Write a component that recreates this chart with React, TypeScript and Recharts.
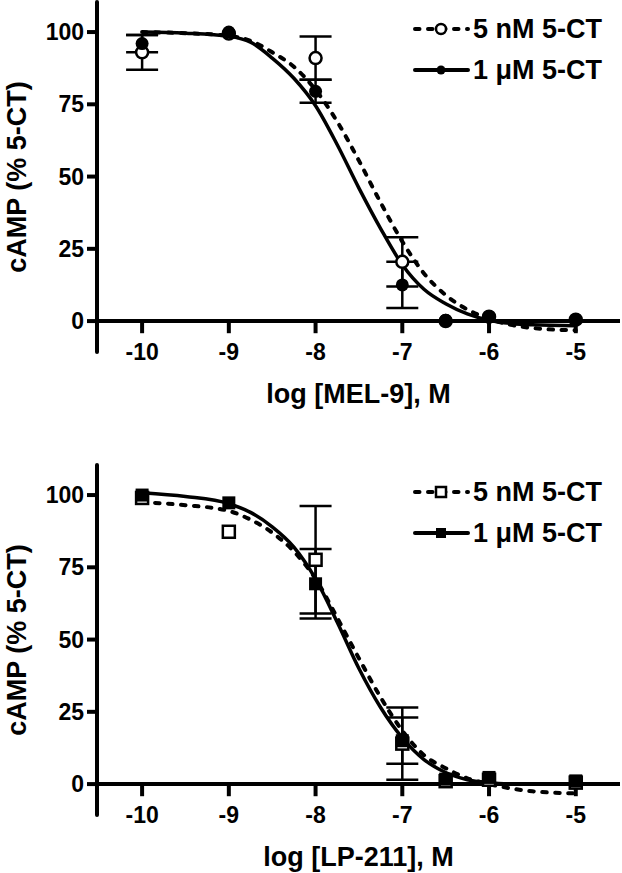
import React from "react"
import { ComposedChart, Line, Scatter, ErrorBar, XAxis, YAxis, ReferenceLine, Legend } from "recharts"

const FONT = '"Liberation Sans", Arial, Helvetica, sans-serif'

const xTicks = [-10, -9, -8, -7, -6, -5]
const yTicks = [0, 25, 50, 75, 100]

const fitLogs = [-10, -9.5, -9, -8.75, -8.5, -8.25, -8, -7.75, -7.5, -7.25, -7, -6.75, -6.5, -6.25, -6, -5.75, -5.5, -5]
// log concentrations of the measured points
const doseLogs = [-10, -9, -8, -7, -6.5, -6, -5]

// MEL-9 panel
const mel9Fit5nM = [100, 99.6, 98.7, 97, 93, 88, 80, 69, 55.5, 41, 27.5, 16.5, 9, 4, 0.8, -1.3, -2.4, -3.2]
const mel9Fit1uM = [100, 99.6, 98.5, 96.5, 91, 84, 74.5, 61, 46, 32, 19.5, 11, 6, 2.5, 0.3, -0.8, -1.3, -1.6]
const mel9Mean5nM = [93, 99.5, 91, 20.5, 0, 1.5, 0.5]
const mel9Sem5nM = [6, 0, 7.5, 8.5, 0, 0, 0]
const mel9Mean1uM = [96, 100, 79.5, 12.5, 0.3, 1.5, 0.5]
const mel9Sem1uM = [3, 0, 4, 8, 0, 0, 0]

// LP-211 panel
const lp211Fit5nM = [97.5, 96.5, 94.5, 91.5, 87, 80.5, 71, 57.5, 43.5, 30, 18.5, 10, 5.5, 2, 0, -1.5, -2.5, -3.2]
const lp211Fit1uM = [100.8, 99.5, 97, 94, 89, 82, 71, 56, 40, 26.5, 16, 8.5, 4, 1.5, 0.5, 0.1, 0, 0]
const lp211Mean5nM = [99, 87.3, 77.6, 14, 1, 1.5, 0.5]
const lp211Sem5nM = [0, 0, 18.6, 12.5, 0, 0, 0]
const lp211Mean1uM = [100, 97.3, 69.3, 15, 1.7, 2.3, 1.1]
const lp211Sem1uM = [0, 0, 12, 8, 0, 0, 0]

const legendLabels = ["5 nM 5-CT", "1 \u03bcM 5-CT"]

const rows = (xs: number[], ys: number[], errs?: number[]) =>
  xs.map((x, i) => ({ x, y: ys[i], err: errs && errs[i] ? errs[i] : undefined }))

const OpenCircle = (p: any) => <circle cx={p.cx} cy={p.cy} r={6} fill="#fff" stroke="#000" strokeWidth={2.5} />
const FilledCircle = (p: any) => <circle cx={p.cx} cy={p.cy} r={6.5} fill="#000" />
const OpenSquare = (p: any) => (
  <rect x={p.cx - 6} y={p.cy - 6} width={12} height={12} fill="#fff" stroke="#000" strokeWidth={2.5} />
)
const FilledSquare = (p: any) => <rect x={p.cx - 6.5} y={p.cy - 6.5} width={13} height={13} fill="#000" />

const DASH = "4.5 8.5"

function LegendBox({ square }: { square: boolean }) {
  return (
    <svg width={212} height={90} style={{ display: "block" }}>
      {legendLabels.map((label, i) => {
        const y = 29 + i * 41
        const open = i === 0
        return (
          <g key={label}>
            <line
              x1={5}
              x2={58}
              y1={y}
              y2={y}
              stroke="#000"
              strokeWidth={4}
              strokeLinecap="round"
              strokeDasharray={open ? DASH : undefined}
            />
            {square ? (
              <rect
                x={26}
                y={y - 5}
                width={10}
                height={10}
                fill={open ? "#fff" : "#000"}
                stroke="#000"
                strokeWidth={open ? 2.5 : 0}
              />
            ) : (
              <circle cx={31} cy={y} r={open ? 5 : 4.5} fill={open ? "#fff" : "#000"} stroke="#000" strokeWidth={open ? 2.5 : 0} />
            )}
            <text x={63} y={y + 8.5} fontSize={27} fontWeight="bold" fontFamily={FONT} fill="#000">
              {label}
            </text>
          </g>
        )
      })}
    </svg>
  )
}

const XTick = ({ x, y, payload }: any) => (
  <text x={x} y={y + 8} textAnchor="middle" fontSize={23} fontWeight="bold" fontFamily={FONT} fill="#000">
    {payload.value}
  </text>
)

type PanelProps = {
  top: number
  xTitle: string
  fitDashed: number[]
  fitSolid: number[]
  mean5nM: number[]
  sem5nM: number[]
  mean1uM: number[]
  sem1uM: number[]
  square: boolean
}

function DosePanel(props: PanelProps) {
  const { top, xTitle, fitDashed, fitSolid, mean5nM, sem5nM, mean1uM, sem1uM, square } = props
  return (
    <div style={{ position: "absolute", left: 0, top }}>
      <ComposedChart width={622} height={412} margin={{ top: 2, right: 2, left: 0, bottom: 0 }}>
        <XAxis
          type="number"
          dataKey="x"
          domain={[-10.52, -4.49]}
          allowDataOverflow
          ticks={xTicks}
          axisLine={false}
          tickLine={false}
          tickSize={0}
          tickMargin={0}
          height={60}
          tick={<XTick />}
          label={{
            value: xTitle,
            position: "insideBottom",
            offset: 9,
            fontSize: 27,
            fontWeight: "bold",
            fontFamily: FONT,
            fill: "#000",
          }}
        />
        <YAxis
          type="number"
          dataKey="y"
          domain={[-10.7, 110.4]}
          allowDataOverflow
          ticks={yTicks}
          width={97}
          axisLine={{ stroke: "#000", strokeWidth: 4, strokeLinecap: "round" }}
          tickLine={{ stroke: "#000", strokeWidth: 4 }}
          tickSize={10}
          tickMargin={3}
          tick={{ fill: "#000", fontSize: 23, fontWeight: "bold", fontFamily: FONT }}
          label={{
            value: "cAMP (% 5-CT)",
            angle: -90,
            position: "insideLeft",
            offset: 16,
            fontSize: 27,
            fontWeight: "bold",
            fontFamily: FONT,
            fill: "#000",
            style: { textAnchor: "middle" },
          }}
        />
        <ReferenceLine y={0} stroke="#000" strokeWidth={4} ifOverflow="visible" />
        {xTicks.map((t) => (
          <ReferenceLine
            key={t}
            segment={[
              { x: t, y: 0 },
              { x: t, y: -4.2 },
            ]}
            stroke="#000"
            strokeWidth={4}
            ifOverflow="visible"
          />
        ))}
        <Line
          data={rows(fitLogs, fitDashed)}
          dataKey="y"
          type="monotone"
          stroke="#000"
          strokeWidth={4}
          strokeDasharray={DASH}
          strokeLinecap="round"
          dot={false}
          activeDot={false}
          isAnimationActive={false}
        />
        <Line
          data={rows(fitLogs, fitSolid)}
          dataKey="y"
          type="monotone"
          stroke="#000"
          strokeWidth={3.5}
          dot={false}
          activeDot={false}
          isAnimationActive={false}
        />
        <Scatter
          data={rows(doseLogs, mean5nM, sem5nM)}
          dataKey="y"
          shape={square ? OpenSquare : OpenCircle}
          isAnimationActive={false}
        >
          <ErrorBar dataKey="err" direction="y" width={16} stroke="#000" strokeWidth={2.5} isAnimationActive={false} />
        </Scatter>
        <Scatter
          data={rows(doseLogs, mean1uM, sem1uM)}
          dataKey="y"
          shape={square ? FilledSquare : FilledCircle}
          isAnimationActive={false}
        >
          <ErrorBar dataKey="err" direction="y" width={16} stroke="#000" strokeWidth={2.5} isAnimationActive={false} />
        </Scatter>
        <Legend
          layout="horizontal"
          verticalAlign="middle"
          align="center"
          wrapperStyle={{ top: 0, left: 410, width: 212, height: 90 }}
          content={() => <LegendBox square={square} />}
        />
      </ComposedChart>
    </div>
  )
}

export default function App() {
  return (
    <div style={{ position: "absolute", left: 0, top: 0, width: 622, height: 873, background: "#fff", overflow: "hidden" }}>
      <DosePanel
        top={0}
        xTitle="log [MEL-9], M"
        fitDashed={mel9Fit5nM}
        fitSolid={mel9Fit1uM}
        mean5nM={mel9Mean5nM}
        sem5nM={mel9Sem5nM}
        mean1uM={mel9Mean1uM}
        sem1uM={mel9Sem1uM}
        square={false}
      />
      <DosePanel
        top={463}
        xTitle="log [LP-211], M"
        fitDashed={lp211Fit5nM}
        fitSolid={lp211Fit1uM}
        mean5nM={lp211Mean5nM}
        sem5nM={lp211Sem5nM}
        mean1uM={lp211Mean1uM}
        sem1uM={lp211Sem1uM}
        square={true}
      />
    </div>
  )
}
